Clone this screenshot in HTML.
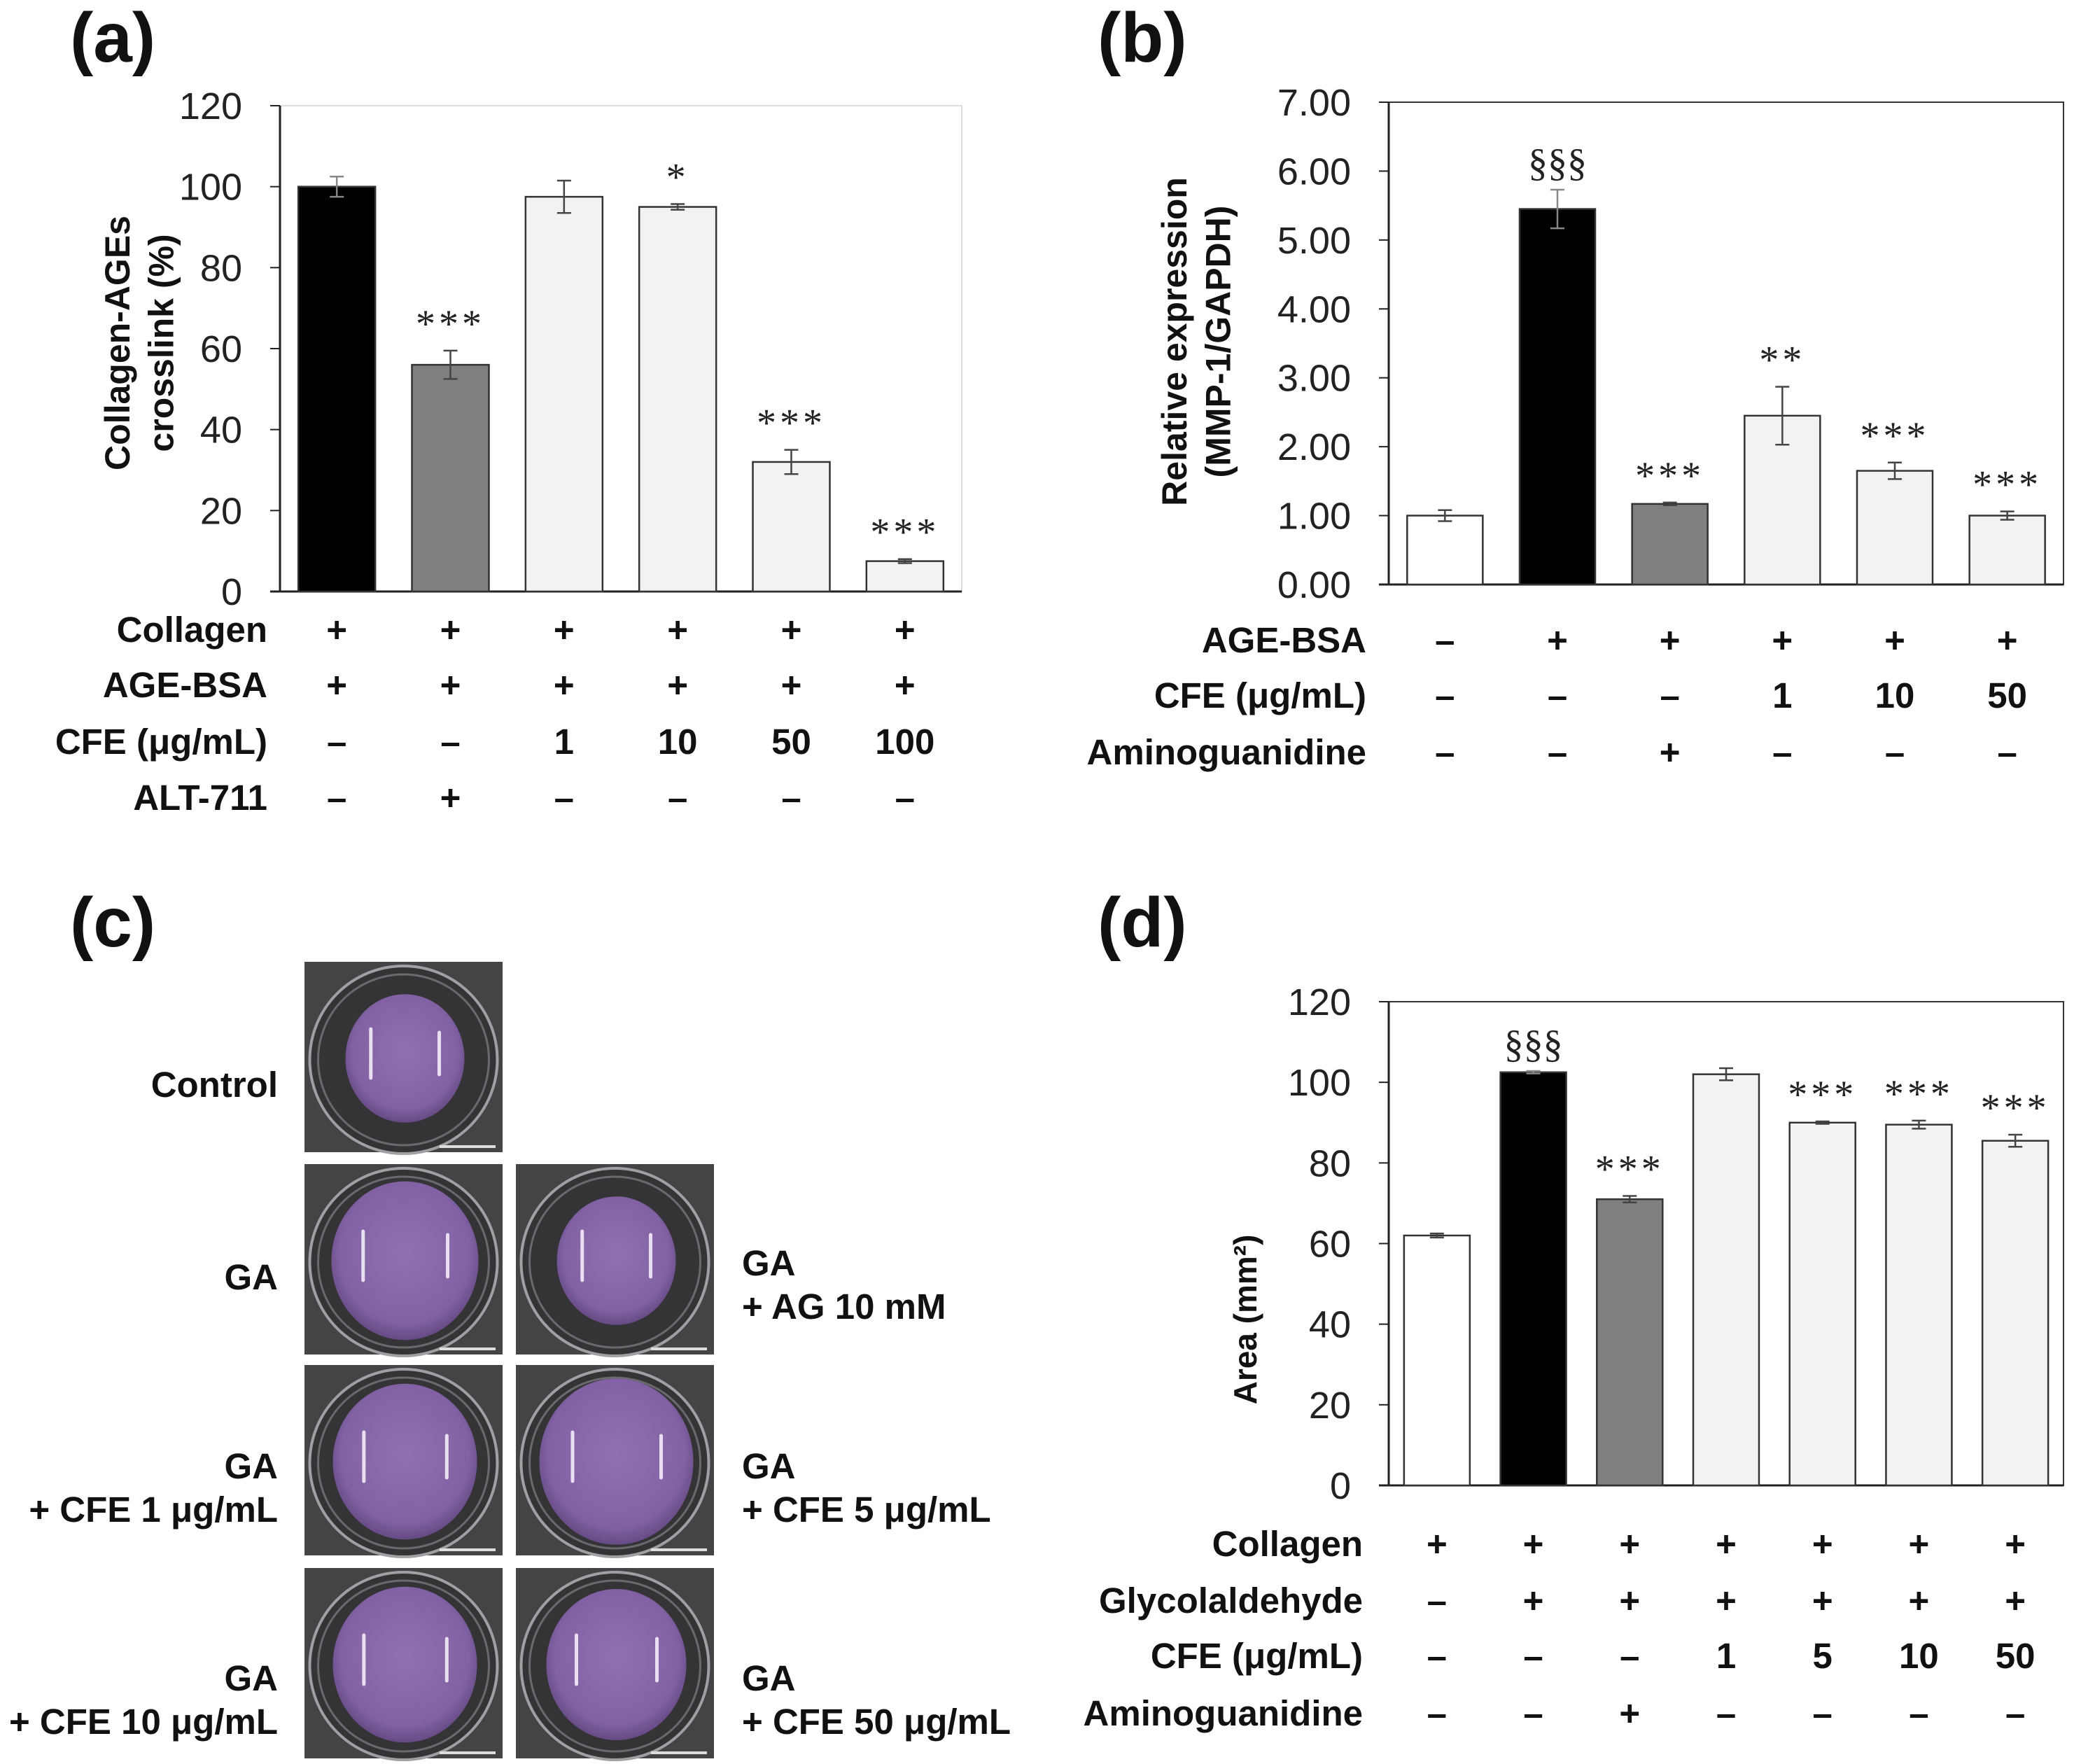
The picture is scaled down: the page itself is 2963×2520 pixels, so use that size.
<!DOCTYPE html>
<html><head><meta charset="utf-8"><style>
html,body{margin:0;padding:0;background:#fff;}
svg{display:block;font-family:"Liberation Sans",Arial,sans-serif;}
</style></head><body>
<svg id="fig" width="2963" height="2520" viewBox="0 0 2963 2520" xmlns="http://www.w3.org/2000/svg">
<defs>
<radialGradient id="purp" cx="50%" cy="45%" r="55%"><stop offset="0" stop-color="#9070b0"/><stop offset="0.8" stop-color="#8262a4"/><stop offset="1" stop-color="#664a84"/></radialGradient>
</defs>
</svg>
<script>
// Panel (a) data
const aValues = [100, 56, 97.5, 95, 32, 7.5];
const aErrors = [2.5, 3.5, 4, 0.7, 3, 0.5];
const aSig = ["", "***", "", "*", "***", "***"];
const aFills = ["#000000", "#7f7f7f", "#f2f2f2", "#f2f2f2", "#f2f2f2", "#f2f2f2"];
const aTicks = [0, 20, 40, 60, 80, 100, 120];
const aRowLabels = ["Collagen", "AGE-BSA", "CFE (μg/mL)", "ALT-711"];
const aRows = [["+","+","+","+","+","+"],["+","+","+","+","+","+"],["–","–","1","10","50","100"],["–","+","–","–","–","–"]];
// Panel (b) data
const bValues = [1.0, 5.45, 1.17, 2.45, 1.65, 1.0];
const bErrors = [0.08, 0.28, 0.02, 0.42, 0.12, 0.06];
const bSig = ["", "§§§", "***", "**", "***", "***"];
const bFills = ["#ffffff", "#000000", "#7f7f7f", "#f2f2f2", "#f2f2f2", "#f2f2f2"];
const bTicks = [0, 1, 2, 3, 4, 5, 6, 7];
const bRowLabels = ["AGE-BSA", "CFE (μg/mL)", "Aminoguanidine"];
const bRows = [["–","+","+","+","+","+"],["–","–","–","1","10","50"],["–","–","+","–","–","–"]];
// Panel (d) data
const dValues = [62, 102.5, 71, 102, 90, 89.5, 85.5];
const dErrors = [0.5, 0.3, 0.8, 1.5, 0.3, 1.0, 1.5];
const dSig = ["", "§§§", "***", "", "***", "***", "***"];
const dFills = ["#ffffff", "#000000", "#7f7f7f", "#f2f2f2", "#f2f2f2", "#f2f2f2", "#f2f2f2"];
const dTicks = [0, 20, 40, 60, 80, 100, 120];
const dRowLabels = ["Collagen", "Glycolaldehyde", "CFE (μg/mL)", "Aminoguanidine"];
const dRows = [["+","+","+","+","+","+","+"],["–","+","+","+","+","+","+"],["–","–","–","1","5","10","50"],["–","–","+","–","–","–","–"]];

const NS = "http://www.w3.org/2000/svg";
const svg = document.getElementById("fig");
function mk(tag, attrs, parent, text) {
  const e = document.createElementNS(NS, tag);
  for (const k in attrs) e.setAttribute(k, attrs[k]);
  if (text !== undefined) e.textContent = text;
  (parent || svg).appendChild(e);
  return e;
}

function chart(o) {
  const g = mk("g", {});
  
  
  const y = v => o.y0 - (v - o.min) / (o.max - o.min) * (o.y0 - o.y1);
  const n = o.values.length;
  const step = (o.x1 - o.x0) / n;
  const cx = i => o.x0 + step * (i + 0.5) + (o.shift || 0);
  const fr = mk("rect", {x: o.x0, y: o.y1, width: o.x1 - o.x0, height: o.y0 - o.y1, fill: "none", stroke: o.frameColor, "stroke-width": 2}, g);
  
  
  o.ticks.forEach(t => {
    mk("line", {x1: o.x0 - 14, x2: o.x0, y1: y(t), y2: y(t), stroke: "#222", "stroke-width": 2}, g);
    const tl = mk("text", {x: o.x0 - 54, y: y(t) + 19, "text-anchor": "end", "font-size": 54, fill: "#222"}, g, o.fmt(t));
    
    
  });
  mk("line", {x1: o.x0, x2: o.x0, y1: o.y1, y2: o.y0, stroke: "#222", "stroke-width": 3}, g);
  mk("line", {x1: o.x0 - 14, x2: o.x1, y1: o.y0, y2: o.y0, stroke: "#222", "stroke-width": 3}, g);
  o.values.forEach((v, i) => {
    const b = mk("rect", {x: cx(i) - o.bw / 2, y: y(v), width: o.bw, height: o.y0 - y(v), fill: o.fills[i], stroke: "#333", "stroke-width": 2.5}, g);
    
    
    const e = o.errors[i];
    const ec = (o.fills[i] === "#000000") ? "#888" : "#444";
    mk("line", {x1: cx(i), x2: cx(i), y1: y(v + e), y2: y(v - e), stroke: ec, "stroke-width": 2.5}, g);
    mk("line", {x1: cx(i) - 10, x2: cx(i) + 10, y1: y(v + e), y2: y(v + e), stroke: ec, "stroke-width": 2.5}, g);
    mk("line", {x1: cx(i) - 10, x2: cx(i) + 10, y1: y(v - e), y2: y(v - e), stroke: ec, "stroke-width": 2.5}, g);
    if (o.sig[i]) {
      const s = mk("text", {x: cx(i), y: y(v + e) - 20, "text-anchor": "middle", "font-size": 56, fill: "#222", "font-family": "Liberation Serif, serif", "letter-spacing": o.sig[i][0] === "*" ? 5 : 0}, g, o.sig[i]);
      
      
    }
  });
  const tg = mk("text", {transform: `translate(${o.titleX},${o.titleY}) rotate(-90)`, "text-anchor": "middle", "font-size": o.titleSize, "font-weight": "bold", fill: "#111"}, g);
  
  
  o.title.forEach((line, k) => mk("tspan", {x: 0, y: k * o.titleSize * 1.25}, tg, line));
  o.rowLabels.forEach((lab, r) => {
    const ry = o.rowY[r];
    const t = mk("text", {x: o.labelRight, y: ry + 17, "text-anchor": "end", "font-size": 51, "font-weight": "bold", fill: "#111"}, g, lab);
    
    
    o.rows[r].forEach((c, i) => {
      const ct = mk("text", {x: cx(i), y: ry + 17, "text-anchor": "middle", "font-size": 51, "font-weight": "bold", fill: "#111"}, g, c);
      
      
    });
  });
}

function panelLabel(t, x, y) {
  const e = mk("text", {x, y, "font-size": 100, "font-weight": "bold", fill: "#111"}, svg, t);
  
  
}

panelLabel("(a)", 100, 88);
panelLabel("(b)", 1568, 88);
panelLabel("(c)", 100, 1352);
panelLabel("(d)", 1568, 1352);

chart({name: "chart-a", x0: 400, x1: 1374, y0: 845, y1: 151, min: 0, max: 120, bw: 110, shift: 0,
  values: aValues, errors: aErrors, sig: aSig, fills: aFills, ticks: aTicks, fmt: t => String(t),
  frameColor: "#ddd", title: ["Collagen-AGEs", "crosslink (%)"], titleX: 185, titleY: 490, titleSize: 50,
  rowLabels: aRowLabels, rows: aRows, rowY: [900, 979, 1060, 1140], labelRight: 382});

chart({name: "chart-b", x0: 1984, x1: 2948, y0: 835, y1: 146, min: 0, max: 7, bw: 108, shift: 0,
  values: bValues, errors: bErrors, sig: bSig, fills: bFills, ticks: bTicks, fmt: t => t.toFixed(2),
  frameColor: "#333", title: ["Relative expression", "(MMP-1/GAPDH)"], titleX: 1695, titleY: 488, titleSize: 50,
  rowLabels: bRowLabels, rows: bRows, rowY: [915, 994, 1075], labelRight: 1952});

chart({name: "chart-d", x0: 1984, x1: 2948, y0: 2122, y1: 1431, min: 0, max: 120, bw: 94, shift: 0,
  values: dValues, errors: dErrors, sig: dSig, fills: dFills, ticks: dTicks, fmt: t => String(t),
  frameColor: "#333", title: ["Area (mm²)"], titleX: 1795, titleY: 1885, titleSize: 46,
  rowLabels: dRowLabels, rows: dRows, rowY: [2206, 2287, 2366, 2448], labelRight: 1947});

const photos = [
  {x: 435, y: 1374, r: 85, name: "photo-control"},
  {x: 435, y: 1663, r: 105, name: "photo-ga"},
  {x: 737, y: 1663, r: 85, name: "photo-ga-ag"},
  {x: 435, y: 1950, r: 103, name: "photo-ga-cfe1"},
  {x: 737, y: 1950, r: 110, name: "photo-ga-cfe5"},
  {x: 435, y: 2240, r: 103, name: "photo-ga-cfe10"},
  {x: 737, y: 2240, r: 100, name: "photo-ga-cfe50"}
];
photos.forEach(p => {
  const g = mk("g", {});
  
  
  const w = 283, h = 272;
  mk("rect", {x: p.x, y: p.y, width: w, height: h, fill: "#444446"}, g);
  mk("circle", {cx: p.x + w / 2, cy: p.y + h / 2 + 4, r: 134, fill: "#343436", stroke: "#a0a0a4", "stroke-width": 4}, g);
  mk("circle", {cx: p.x + w / 2, cy: p.y + h / 2 + 4, r: 122, fill: "none", stroke: "#6a6a6e", "stroke-width": 3}, g);
  mk("ellipse", {cx: p.x + w / 2 + 2, cy: p.y + h / 2 + 2, rx: p.r, ry: p.r * 1.08, fill: "url(#purp)"}, g);
  mk("line", {x1: p.x + w / 2 - p.r * 0.55, x2: p.x + w / 2 - p.r * 0.55, y1: p.y + h / 2 - 40, y2: p.y + h / 2 + 30, stroke: "#e8dff0", "stroke-width": 5, "stroke-linecap": "round"}, g);
  mk("line", {x1: p.x + w / 2 + p.r * 0.6, x2: p.x + w / 2 + p.r * 0.6, y1: p.y + h / 2 - 35, y2: p.y + h / 2 + 25, stroke: "#e8dff0", "stroke-width": 5, "stroke-linecap": "round"}, g);
  mk("line", {x1: p.x + w - 90, x2: p.x + w - 10, y1: p.y + h - 8, y2: p.y + h - 8, stroke: "#ddd", "stroke-width": 4}, g);
});
const cLabels = [
  {x: 397, y: 1567, lines: ["Control"], a: "end"},
  {x: 397, y: 1842, lines: ["GA"], a: "end"},
  {x: 1060, y: 1822, lines: ["GA", "+ AG 10 mM"], a: "start"},
  {x: 397, y: 2112, lines: ["GA", "+ CFE 1 μg/mL"], a: "end"},
  {x: 1060, y: 2112, lines: ["GA", "+ CFE 5 μg/mL"], a: "start"},
  {x: 397, y: 2415, lines: ["GA", "+ CFE 10 μg/mL"], a: "end"},
  {x: 1060, y: 2415, lines: ["GA", "+ CFE 50 μg/mL"], a: "start"}
];
cLabels.forEach(l => {
  const t = mk("text", {x: l.x, y: l.y, "text-anchor": l.a, "font-size": 51, "font-weight": "bold", fill: "#111"});
  
  
  l.lines.forEach((s, k) => mk("tspan", {x: l.x, y: l.y + k * 62}, t, s));
});
</script>
</body></html>
